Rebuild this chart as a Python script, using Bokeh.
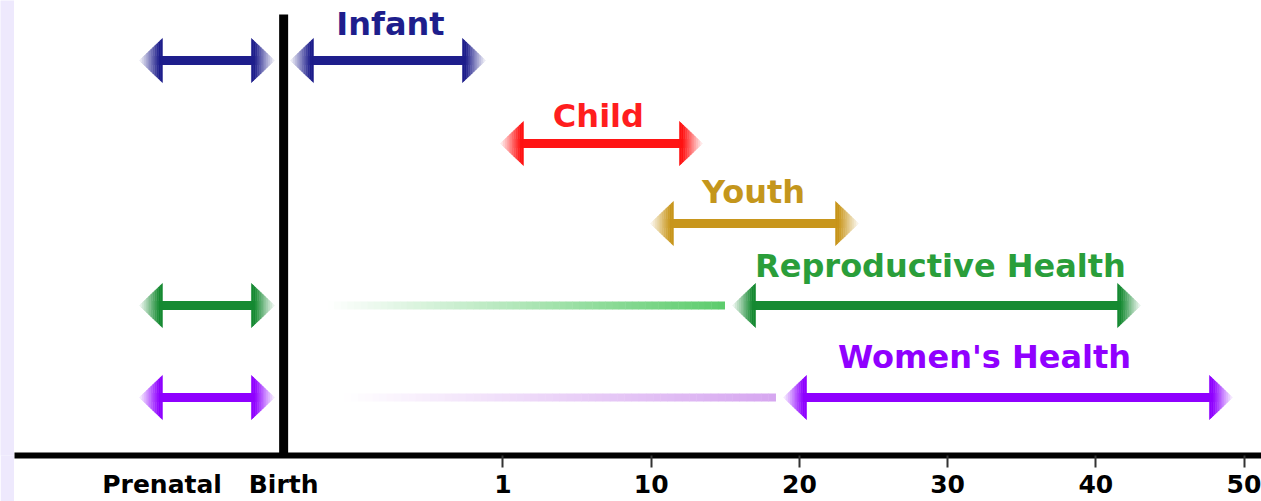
from bokeh.plotting import figure
from bokeh.models import Range1d, FixedTicker
from bokeh.layouts import row
from bokeh.core.properties import value
from bokeh.embed import file_html
from bokeh.resources import INLINE

# ---------------- data ----------------
# positions along the schematic age axis (axis units: "1"=0, "10"=1, "20"=2 ...)
tick_labels = ["Prenatal", "Birth", "1", "10", "20", "30", "40", "50"]
tick_pos = [-2.3, -1.48, 0, 1, 2, 3, 4, 5]

stages = ["Infant", "Child", "Youth", "Reproductive Health", "Women's Health"]
stage_start = [-1.434, -0.017, 0.995, 1.549, 1.893]
stage_end = [-0.118, 1.346, 2.399, 4.302, 4.922]
label_pos = [-0.759, 0.644, 1.690, 2.952, 3.249]

# prenatal-period arrows (for these stages)
prenatal_stages = ["Infant", "Reproductive Health", "Women's Health"]
prenatal_start = -2.453
prenatal_end = -1.542

# faded lead-in lines (from birth onward)
lead_stages = ["Reproductive Health", "Women's Health"]
lead_start = [-1.184, -1.076]
lead_end = [1.495, 1.839]

# ---------------- styles / layout ----------------
arrow_colors = {"Infant": "#1e1e8c", "Child": "#ff1414", "Youth": "#c8961c",
                "Reproductive Health": "#168a32", "Women's Health": "#8f00ff"}
text_colors = {"Infant": "#1e1e8c", "Child": "#ff1e1e", "Youth": "#c4961c",
               "Reproductive Health": "#2a9e3a", "Women's Health": "#9000ff"}
lead_colors = {"Reproductive Health": "#5ccc6c", "Women's Health": "#d6a6f0"}
row_y = {"Infant": 395, "Child": 312, "Youth": 232,
         "Reproductive Health": 150, "Women's Health": 58}
label_y = {"Infant": 432, "Child": 340, "Youth": 264,
           "Reproductive Health": 190, "Women's Health": 99}

HEAD_LEN = 0.155
HEAD_HALF = 22
SHAFT_W = 9
N_SLICES = 12
X0, X1 = -3.296, 5.118


def hex_rgb(h):
    h = h.lstrip("#")
    return tuple(int(h[i:i + 2], 16) for i in (0, 2, 4))


def mix_white(h, t):
    r, g, b = hex_rgb(h)
    return "#%02x%02x%02x" % (round(r + (255 - r) * t), round(g + (255 - g) * t),
                              round(b + (255 - b) * t))


strip = figure(width=14, height=501, output_backend="svg", toolbar_location=None,
               x_axis_location=None, y_axis_location=None,
               min_border=0, border_fill_color="#eee9fd",
               background_fill_color="#eee9fd", outline_line_color=None)
strip.grid.visible = False

p = figure(width=1247, height=501, output_backend="svg", toolbar_location=None,
           x_range=Range1d(X0, X1), y_range=Range1d(0, 455),
           min_border_left=0, min_border_right=0, min_border_top=0,
           min_border_bottom=40, y_axis_location=None)
p.grid.visible = False
p.outline_line_color = None
p.background_fill_color = "white"
p.border_fill_color = "white"


def draw_arrow(x0, x1, y, color):
    p.segment(x0=[x0 + HEAD_LEN * 0.5], y0=[y], x1=[x1 - HEAD_LEN * 0.5], y1=[y],
              line_color=color, line_width=SHAFT_W, line_cap="butt")
    xs, ys, cs = [], [], []
    for side in (-1, 1):
        base = x0 + HEAD_LEN if side == -1 else x1 - HEAD_LEN
        for k in range(N_SLICES):
            u0, u1 = k / N_SLICES, (k + 1) / N_SLICES
            xa, xb = base + side * u0 * HEAD_LEN, base + side * u1 * HEAD_LEN
            ha, hb = HEAD_HALF * (1 - u0), HEAD_HALF * (1 - u1)
            xs.append([xa, xb, xb, xa])
            ys.append([y - ha, y - hb, y + hb, y + ha])
            t = max(0.0, ((u0 + u1) / 2 - 0.15) / 0.85)
            cs.append(mix_white(color, min(1.0, t * 0.95)))
    p.patches(xs=xs, ys=ys, fill_color=cs, line_color=cs, line_width=0.6)


def draw_lead(x0, x1, y, color, n=60):
    xs0, xs1, cs = [], [], []
    for k in range(n):
        xs0.append(x0 + (x1 - x0) * k / n)
        xs1.append(x0 + (x1 - x0) * (k + 1) / n + 0.003)
        cs.append(mix_white(color, 1 - (k + 0.5) / n))
    p.segment(x0=xs0, y0=[y] * n, x1=xs1, y1=[y] * n, line_color=cs,
              line_width=8, line_cap="butt")


for st, a, b in zip(lead_stages, lead_start, lead_end):
    draw_lead(a, b, row_y[st], lead_colors[st])

for st in prenatal_stages:
    draw_arrow(prenatal_start, prenatal_end, row_y[st], arrow_colors[st])

for st, a, b in zip(stages, stage_start, stage_end):
    draw_arrow(a, b, row_y[st], arrow_colors[st])

# birth line
p.segment(x0=[tick_pos[1]], y0=[0], x1=[tick_pos[1]], y1=[441],
          line_color="black", line_width=9, line_cap="butt")

# stage labels
p.text(x=label_pos, y=[label_y[s] for s in stages], text=stages,
       text_color=[text_colors[s] for s in stages],
       text_align="center", text_baseline="alphabetic",
       text_font=value("DejaVu Sans"), text_font_style="bold",
       text_font_size="32px")

# x axis
ax = p.xaxis[0]
ax.ticker = FixedTicker(ticks=tick_pos, minor_ticks=tick_pos[2:])
ax.major_label_overrides = {pos: lab for pos, lab in zip(tick_pos, tick_labels)}
ax.axis_line_width = 6
ax.axis_line_color = "black"
ax.major_tick_line_color = None
ax.major_tick_out = 0
ax.major_tick_in = 0
ax.minor_tick_line_color = "#333333"
ax.minor_tick_line_width = 2
ax.minor_tick_out = 12
ax.minor_tick_in = 0
ax.major_label_standoff = 2
ax.major_label_text_font = "DejaVu Sans"
ax.major_label_text_font_style = "bold"
ax.major_label_text_font_size = "25px"
ax.major_label_text_color = "black"

layout = row(strip, p, spacing=0)
open("out.html", "w").write(file_html(layout, INLINE))
